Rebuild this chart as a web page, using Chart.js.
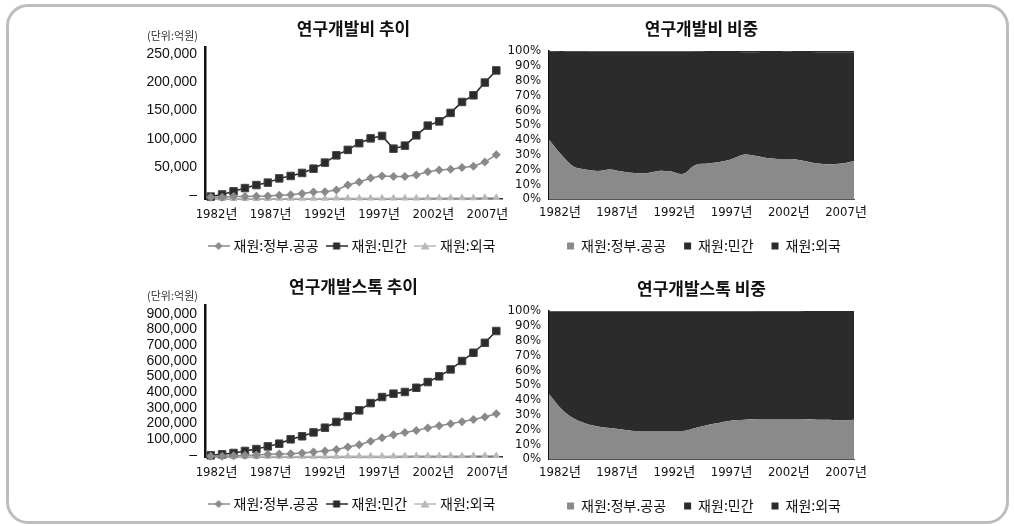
<!DOCTYPE html>
<html>
<head>
<meta charset="utf-8">
<script src="https://cdn.jsdelivr.net/npm/chart.js@4.4.1/dist/chart.umd.min.js"></script>
<style>
html, body { margin: 0; padding: 0; background: #fff; }
body { width: 1014px; height: 526px; position: relative; overflow: hidden; font-family: "Noto Sans CJK KR", sans-serif; }
.frame { position: absolute; left: 6px; top: 4px; width: 1003px; height: 520px; box-sizing: border-box; border: 3px solid #bdbdbd; border-radius: 22px; }
.box { position: absolute; }
.unit { position: absolute; left: 147px; font-size: 11px; line-height: 12px; color: #333; }
</style>
</head>
<body>
<div class="frame"></div>
<div class="box" style="left:130px;top:8px;width:446px;height:255px"><canvas id="rdLine"></canvas></div>
<div class="box" style="left:490px;top:8px;width:428px;height:255px"><canvas id="rdShare"></canvas></div>
<div class="box" style="left:130px;top:266px;width:446px;height:255px"><canvas id="stockLine"></canvas></div>
<div class="box" style="left:490px;top:268px;width:428px;height:255px"><canvas id="stockShare"></canvas></div>
<div class="unit" style="top:29px">(단위:억원)</div>
<div class="unit" style="top:289px">(단위:억원)</div>
<script>
// 1982 ~ 2007
const years = ['1982년', '1983년', '1984년', '1985년', '1986년', '1987년', '1988년', '1989년', '1990년',
  '1991년', '1992년', '1993년', '1994년', '1995년', '1996년', '1997년', '1998년', '1999년', '2000년',
  '2001년', '2002년', '2003년', '2004년', '2005년', '2006년', '2007년'];
const tickYears = ['1982년', '1987년', '1992년', '1997년', '2002년', '2007년'];
const seriesNames = ['재원:정부.공공', '재원:민간', '재원:외국'];
const rdTicks = [0, 50000, 100000, 150000, 200000, 250000];
const stockTicks = [0, 100000, 200000, 300000, 400000, 500000, 600000, 700000, 800000, 900000];

// 연구개발비 (억원)
const rdGov = [3000, 3000, 4000, 4000, 4500, 5000, 6000, 7000, 9000, 11500, 12000, 15000, 23000,
  28000, 34500, 38000, 37000, 37000, 39500, 45000, 48000, 49000, 52000, 54000, 61000, 73000];
const rdPrivate = [4000, 7500, 12600, 18000, 23000, 27000, 34000, 38000, 43000, 50000, 60000, 72000,
  81000, 92000, 100000, 104000, 83000, 88000, 105000, 121000, 128000, 142000, 160000, 171000, 192000, 212000];
const rdForeign = [300, 400, 400, 500, 600, 600, 700, 800, 800, 900, 1000, 1100, 1200, 1200, 1300,
  1400, 1200, 1300, 1400, 1500, 1600, 1700, 1800, 1800, 1900, 2000];

// 연구개발스톡 (억원)
const stockGov = [4000, 4000, 8000, 10000, 12000, 16000, 18000, 20000, 24000, 30000, 36000, 45000,
  59000, 73000, 93000, 115000, 132000, 146000, 158000, 172000, 186000, 198000, 210000, 222000, 237000, 257000];
const stockPrivate = [10000, 16000, 24000, 36000, 47000, 63000, 79000, 105000, 123000, 146000, 174000,
  208000, 241000, 277000, 320000, 356000, 376000, 386000, 411000, 445000, 479000, 520000, 570000,
  619000, 678000, 748000];
const stockForeign = [1000, 1200, 1500, 1800, 2000, 2300, 2500, 2800, 3000, 3200, 3500, 3700, 4000,
  4200, 4500, 4800, 5000, 5200, 5500, 5700, 6000, 6200, 6500, 6800, 7000, 7300];

// 비중 (%)
const rdGovShare = [40, 30, 22, 20, 19, 20, 18.5, 17.5, 17.5, 19, 18.5, 17, 23, 24, 25, 27, 30, 29,
  27.5, 27, 27, 25.5, 24, 23.5, 24, 25.5];
const rdPrivateShare = [59.5, 69.4, 77.5, 79.5, 80.6, 79.6, 81.1, 82.2, 82.2, 80.6, 81.1, 82.6, 76.5,
  75.4, 74.4, 72.3, 69.2, 70.2, 71.8, 72.4, 72.4, 73.8, 75.2, 75.6, 75.2, 73.7];
const rdForeignShare = [0.5, 0.6, 0.5, 0.5, 0.4, 0.4, 0.4, 0.3, 0.3, 0.4, 0.4, 0.4, 0.5, 0.6, 0.6,
  0.7, 0.8, 0.8, 0.7, 0.6, 0.6, 0.7, 0.8, 0.9, 0.8, 0.8];
const stockGovShare = [44, 34, 27.5, 24, 22, 21, 20, 19, 19, 19, 19, 19, 21, 23, 24.5, 26, 26.5, 27,
  27, 27, 27, 27, 26.5, 26.5, 26, 26.5];
const stockPrivateShare = [55.6, 65.6, 72.1, 75.7, 77.7, 78.7, 79.7, 80.7, 80.7, 80.7, 80.7, 80.7,
  78.7, 76.7, 75.1, 73.6, 73.1, 72.5, 72.5, 72.5, 72.5, 72.4, 72.9, 72.9, 73.4, 72.8];
const stockForeignShare = [0.4, 0.4, 0.4, 0.3, 0.3, 0.3, 0.3, 0.3, 0.3, 0.3, 0.3, 0.3, 0.3, 0.3, 0.4,
  0.4, 0.4, 0.5, 0.5, 0.5, 0.5, 0.6, 0.6, 0.6, 0.6, 0.7];

const KR = '"Noto Sans CJK KR", "Noto Sans", sans-serif';
const SANS = '"Liberation Sans", Arial, "Noto Sans CJK KR", sans-serif';
const NARROW = '"Liberation Sans Narrow", "DejaVu Sans Condensed", "Liberation Sans", "Noto Sans CJK KR", sans-serif';

const GRAY = '#8a8a8a';
const DARK = '#2b2b2b';
const LIGHT = '#b8b8b8';

const tickIdx = tickYears.map(y => years.indexOf(y));

// excel-like legend symbol: short line with marker
function legendIcon(style, color) {
  const c = document.createElement('canvas');
  c.width = 22; c.height = 12;
  const g = c.getContext('2d');
  g.strokeStyle = color; g.lineWidth = 1.5;
  g.beginPath(); g.moveTo(0, 6); g.lineTo(22, 6); g.stroke();
  g.fillStyle = color;
  g.beginPath();
  if (style === 'rectRot') { g.moveTo(11, 2); g.lineTo(15, 6); g.lineTo(11, 10); g.lineTo(7, 6); }
  else if (style === 'rect') { g.rect(7.5, 2.5, 7, 7); }
  else { g.moveTo(11, 2); g.lineTo(15.5, 9.5); g.lineTo(6.5, 9.5); }
  g.closePath(); g.fill();
  return c;
}
const icons = [legendIcon('rectRot', GRAY), legendIcon('rect', DARK), legendIcon('triangle', LIGHT)];

// year label axis (labels sit slightly inside the plotted range, as in the source image)
function yearAxis(min, max, pad, height, border) {
  return {
    type: 'linear', position: 'bottom', min, max, bounds: 'data',
    grid: { display: false, drawTicks: false }, border,
    afterBuildTicks(a) { a.ticks = tickIdx.map(v => ({ value: v })); },
    ticks: { autoSkip: false, maxRotation: 0, padding: pad, color: '#111',
      font: { family: NARROW, size: 13 }, callback: v => years[v] },
    afterFit(s) { s.height = height; }
  };
}

function lineChart(id, title, gov, priv, foreign, yMax, ticks, labelMin, labelMax) {
  const pt = { xAxisID: 'x', yAxisID: 'y', borderWidth: 1.5, clip: false };
  new Chart(document.getElementById(id), {
    type: 'line',
    data: {
      labels: years,
      datasets: [
        { ...pt, label: seriesNames[0], data: gov, borderColor: GRAY, backgroundColor: GRAY,
          pointStyle: 'rectRot', pointRadius: 4.5, pointBorderWidth: 0 },
        { ...pt, label: seriesNames[1], data: priv, borderColor: '#222', backgroundColor: DARK,
          pointStyle: 'rect', pointRadius: 5.3, pointBorderColor: '#444', pointBorderWidth: 1 },
        { ...pt, label: seriesNames[2], data: foreign, borderColor: LIGHT, backgroundColor: LIGHT,
          pointStyle: 'triangle', pointRadius: 4.5, pointBorderWidth: 0 }
      ]
    },
    options: {
      responsive: true, maintainAspectRatio: false, animation: false, devicePixelRatio: 1,
      layout: { padding: 0 },
      plugins: {
        title: { display: true, text: title, fullSize: false, color: '#111',
          font: { family: KR, size: 17, weight: 'bold' }, padding: { top: 10, bottom: 9 } },
        legend: { position: 'bottom',
          labels: { usePointStyle: true, pointStyleWidth: 16, padding: 10, color: '#111',
            font: { family: KR, size: 14 },
            generateLabels(chart) {
              const items = Chart.defaults.plugins.legend.labels.generateLabels(chart);
              items.forEach((it, i) => { it.pointStyle = icons[i]; });
              return items;
            } } },
        tooltip: { enabled: false }
      },
      scales: {
        x: { type: 'category', offset: true, display: false },
        y: { type: 'linear', min: 0, max: yMax, display: false },
        xLabel: yearAxis(-1.06, 26.34, 8, 30, { color: '#333', width: 1.5 }),
        yLabel: { type: 'linear', position: 'left', min: labelMin, max: labelMax, bounds: 'data',
          grid: { display: false, drawTicks: false }, border: { color: '#111', width: 2.5 },
          afterBuildTicks(a) { a.ticks = ticks.map(v => ({ value: v })); },
          ticks: { autoSkip: false, padding: 8, color: '#111',
            font: { family: SANS, size: 14, lineHeight: 1 },
            callback: v => v === 0 ? '–' : v.toLocaleString('en-US') },
          afterFit(s) { s.width = 75; } },
        yR: { type: 'linear', position: 'right', grid: { display: false }, border: { display: false },
          ticks: { display: false }, afterFit(s) { s.width = 74; } }
      }
    }
  });
}

function shareChart(id, title, gov, priv, foreign) {
  const area = { xAxisID: 'x', yAxisID: 'y', borderWidth: 0, pointRadius: 0, tension: 0.35 };
  new Chart(document.getElementById(id), {
    type: 'line',
    data: {
      labels: years,
      datasets: [
        { ...area, label: seriesNames[0], data: gov, backgroundColor: GRAY, borderColor: GRAY, fill: 'origin' },
        { ...area, label: seriesNames[1], data: priv, backgroundColor: DARK, borderColor: DARK, fill: '-1' },
        { ...area, label: seriesNames[2], data: foreign, backgroundColor: DARK, borderColor: DARK, fill: '-1' }
      ]
    },
    options: {
      responsive: true, maintainAspectRatio: false, animation: false, devicePixelRatio: 1,
      layout: { padding: 0 },
      plugins: {
        title: { display: true, text: title, fullSize: false, color: '#111',
          font: { family: KR, size: 17, weight: 'bold' }, padding: { top: 10, bottom: 12.6 } },
        legend: { position: 'bottom',
          labels: { boxWidth: 7, boxHeight: 7, padding: 18, color: '#111', font: { family: KR, size: 14 } } },
        tooltip: { enabled: false }
      },
      scales: {
        x: { type: 'category', offset: false, display: false },
        y: { stacked: true, min: 0, max: 100, grid: { display: false, drawTicks: false },
          border: { color: '#111', width: 1.5 },
          ticks: { stepSize: 10, autoSkip: false, padding: 8, color: '#111',
            font: { family: NARROW, size: 13, lineHeight: 1 }, callback: v => v + '%' },
          afterFit(s) { s.width = 59; } },
        xLabel: yearAxis(-0.96, 25.7, 6, 22, { color: '#555', width: 1 }),
        yR: { type: 'linear', position: 'right', grid: { display: false }, border: { display: false },
          ticks: { display: false }, afterFit(s) { s.width = 64; } }
      }
    }
  });
}

lineChart('rdLine', '연구개발비 추이', rdGov, rdPrivate, rdForeign, 250000, rdTicks, -6400, 261500);
shareChart('rdShare', '연구개발비 비중', rdGovShare, rdPrivateShare, rdForeignShare);
lineChart('stockLine', '연구개발스톡 추이', stockGov, stockPrivate, stockForeign, 900000, stockTicks, -12700, 952700);
shareChart('stockShare', '연구개발스톡 비중', stockGovShare, stockPrivateShare, stockForeignShare);
</script>
</body>
</html>
